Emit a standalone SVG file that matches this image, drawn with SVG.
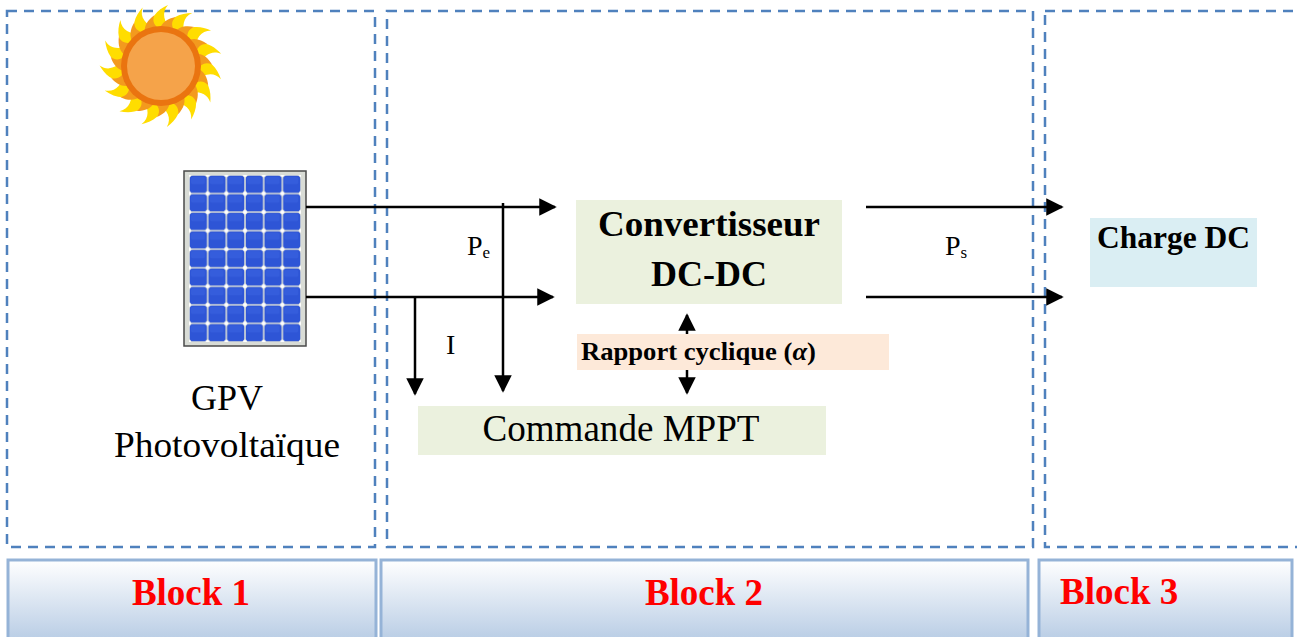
<svg xmlns="http://www.w3.org/2000/svg" xmlns:xlink="http://www.w3.org/1999/xlink" width="1297" height="637" viewBox="0 0 1297 637">
  <style>
    .zone { fill: none; stroke: #4F81BD; stroke-width: 2.5; stroke-dasharray: 10 7; }
    .bar { fill: url(#barGrad); stroke: #95B3D7; stroke-width: 3; }
    .blk { font-family: "Liberation Serif", serif; font-weight: bold; font-size: 37px; fill: #FF0000; }
    .txt { font-family: "Liberation Serif", serif; fill: #000; }
    .wire { stroke: #000; stroke-width: 2.5; fill: none; }
    .green { fill: #EBF1DE; }
  </style>
  <defs>
    <linearGradient id="barGrad" x1="0" y1="0" x2="0" y2="1">
      <stop offset="0" stop-color="#FFFFFF"/>
      <stop offset="1" stop-color="#B9CDE5"/>
    </linearGradient>
    <marker id="arrow" viewBox="0 0 10 10" refX="9" refY="5" markerWidth="7" markerHeight="7" markerUnits="strokeWidth" orient="auto">
      <path d="M0,0 L10,5 L0,10 Z" fill="#000"/>
    </marker>
    <pattern id="cells" x="189" y="175" width="18.67" height="18.55" patternUnits="userSpaceOnUse">
      <rect x="0.8" y="0.8" width="17.1" height="17" rx="3" fill="#2E55D6"/>
      <rect x="2" y="2" width="14" height="7" rx="2" fill="#3B63E0" opacity="0.6"/>
      <circle cx="0" cy="0" r="2" fill="#FFFFFF"/>
      <circle cx="18.67" cy="0" r="2" fill="#FFFFFF"/>
      <circle cx="0" cy="18.55" r="2" fill="#FFFFFF"/>
      <circle cx="18.67" cy="18.55" r="2" fill="#FFFFFF"/>
    </pattern>
    <path id="flame" d="M-11,-34 C-12,-48 -4,-56 7,-61 C0,-53 3,-45 11,-34 Z" fill="#FFDD00"/>
    <path id="flameIn" d="M-9,-34 C-9,-43 -3,-48 4,-51 C0,-45 2,-40 9,-34 Z" fill="#F39A1E"/>
  </defs>

  <!-- dashed zones -->
  <g id="zones">
    <rect class="zone" x="7" y="11" width="368" height="536"/>
    <rect class="zone" x="387" y="11" width="646" height="536"/>
    <rect class="zone" x="1045" y="11" width="270" height="536"/>
  </g>

  <!-- block captions -->
  <g id="block1-bar">
    <rect class="bar" x="8" y="560" width="368" height="80"/>
    <text class="blk" x="191" y="605" text-anchor="middle">Block 1</text>
  </g>
  <g id="block2-bar">
    <rect class="bar" x="381" y="560" width="647" height="80"/>
    <text class="blk" x="704" y="605" text-anchor="middle">Block 2</text>
  </g>
  <g id="block3-bar">
    <rect class="bar" x="1039" y="560" width="253" height="80"/>
    <text class="blk" x="1060" y="604">Block 3</text>
  </g>

  <!-- sun -->
  <g id="sun" transform="translate(161,66)">
    <use xlink:href="#flame" transform="rotate(0)"/>
    <use xlink:href="#flame" transform="rotate(24)"/>
    <use xlink:href="#flame" transform="rotate(48)"/>
    <use xlink:href="#flame" transform="rotate(72)"/>
    <use xlink:href="#flame" transform="rotate(96)"/>
    <use xlink:href="#flame" transform="rotate(120)"/>
    <use xlink:href="#flame" transform="rotate(144)"/>
    <use xlink:href="#flame" transform="rotate(168)"/>
    <use xlink:href="#flame" transform="rotate(192)"/>
    <use xlink:href="#flame" transform="rotate(216)"/>
    <use xlink:href="#flame" transform="rotate(240)"/>
    <use xlink:href="#flame" transform="rotate(264)"/>
    <use xlink:href="#flame" transform="rotate(288)"/>
    <use xlink:href="#flame" transform="rotate(312)"/>
    <use xlink:href="#flame" transform="rotate(336)"/>
    <circle r="45" fill="#FFDD00"/>
    <use xlink:href="#flameIn" transform="rotate(12)"/>
    <use xlink:href="#flameIn" transform="rotate(36)"/>
    <use xlink:href="#flameIn" transform="rotate(60)"/>
    <use xlink:href="#flameIn" transform="rotate(84)"/>
    <use xlink:href="#flameIn" transform="rotate(108)"/>
    <use xlink:href="#flameIn" transform="rotate(132)"/>
    <use xlink:href="#flameIn" transform="rotate(156)"/>
    <use xlink:href="#flameIn" transform="rotate(180)"/>
    <use xlink:href="#flameIn" transform="rotate(204)"/>
    <use xlink:href="#flameIn" transform="rotate(228)"/>
    <use xlink:href="#flameIn" transform="rotate(252)"/>
    <use xlink:href="#flameIn" transform="rotate(276)"/>
    <use xlink:href="#flameIn" transform="rotate(300)"/>
    <use xlink:href="#flameIn" transform="rotate(324)"/>
    <use xlink:href="#flameIn" transform="rotate(348)"/>
    <circle r="40" fill="#EA7410"/>
    <circle r="34" fill="#F5A34A"/>
  </g>

  <!-- photovoltaic generator -->
  <g id="gpv">
    <rect x="184" y="171" width="122" height="175" fill="#D9DCD6" stroke="#4A4A4A" stroke-width="1.5"/>
    <rect x="189" y="175" width="112" height="167" fill="url(#cells)"/>
    <text class="txt" x="227" y="410" font-size="36" text-anchor="middle">GPV</text>
    <text class="txt" x="227" y="457" font-size="36" text-anchor="middle" textLength="226" lengthAdjust="spacingAndGlyphs">Photovoltaïque</text>
  </g>

  <!-- converter -->
  <g id="convertisseur">
    <rect class="green" x="576" y="200" width="266" height="104"/>
    <text class="txt" x="709" y="236" font-size="36" font-weight="bold" text-anchor="middle" textLength="222" lengthAdjust="spacingAndGlyphs">Convertisseur</text>
    <text class="txt" x="709" y="286" font-size="36" font-weight="bold" text-anchor="middle">DC-DC</text>
  </g>

  <!-- duty cycle -->
  <g id="rapport">
    <rect x="577" y="334" width="312" height="36" fill="#FDE9D9"/>
    <text class="txt" x="581" y="360" font-size="25" font-weight="bold" textLength="235" lengthAdjust="spacingAndGlyphs">Rapport cyclique (<tspan font-style="italic">α</tspan>)</text>
  </g>

  <!-- MPPT control -->
  <g id="mppt">
    <rect class="green" x="418" y="406" width="408" height="49"/>
    <text class="txt" x="621" y="441" font-size="37" text-anchor="middle" textLength="277" lengthAdjust="spacingAndGlyphs">Commande MPPT</text>
  </g>

  <!-- load -->
  <g id="charge">
    <rect x="1090" y="218" width="167" height="69" fill="#DAEEF3"/>
    <text class="txt" x="1097" y="248" font-size="31" font-weight="bold" textLength="153" lengthAdjust="spacingAndGlyphs">Charge DC</text>
  </g>

  <!-- connectors -->
  <g id="connectors">
    <line class="wire" x1="306" y1="207" x2="555" y2="207" marker-end="url(#arrow)"/>
    <line class="wire" x1="306" y1="297" x2="553" y2="297" marker-end="url(#arrow)"/>
    <line class="wire" x1="503" y1="203" x2="503" y2="391" marker-end="url(#arrow)"/>
    <line class="wire" x1="415" y1="297" x2="415" y2="394" marker-end="url(#arrow)"/>
    <line class="wire" x1="866" y1="207" x2="1062" y2="207" marker-end="url(#arrow)"/>
    <line class="wire" x1="866" y1="297" x2="1062" y2="297" marker-end="url(#arrow)"/>
    <line class="wire" x1="687" y1="334" x2="687" y2="315" marker-end="url(#arrow)"/>
    <line class="wire" x1="687" y1="370" x2="687" y2="393" marker-end="url(#arrow)"/>
  </g>

  <!-- signal labels -->
  <g id="labels">
    <text class="txt" x="467" y="255" font-size="28">P<tspan font-size="17" dy="3">e</tspan></text>
    <text class="txt" x="446" y="354" font-size="28">I</text>
    <text class="txt" x="945" y="255" font-size="28">P<tspan font-size="17" dy="3">s</tspan></text>
  </g>
</svg>
